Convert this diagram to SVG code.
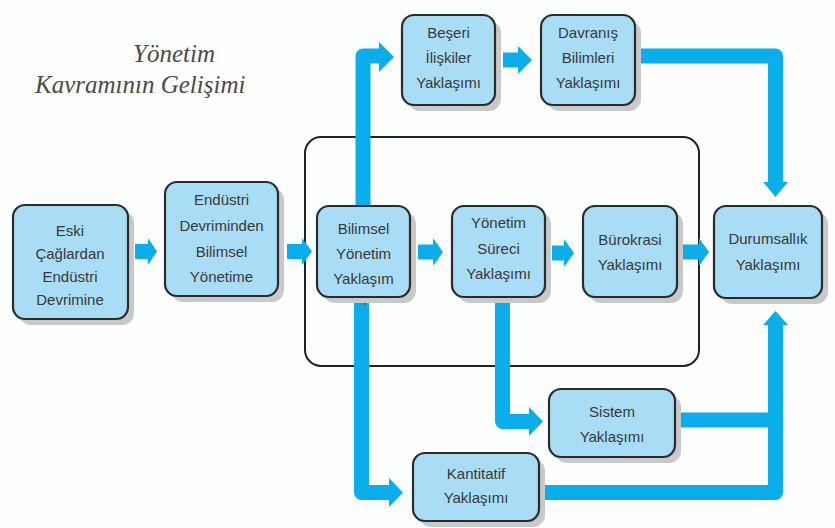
<svg xmlns="http://www.w3.org/2000/svg" width="835" height="528" viewBox="0 0 835 528">
<defs>
<style>
.bg{fill:#fdfefe}
.box{fill:#a9ddf5;stroke:#2b2b2b;stroke-width:2.2}
.sh{fill:#c9c9c9}
.t{font-family:"Liberation Sans",Arial,sans-serif;font-size:15px;fill:#383838;text-anchor:middle}
.ttl{font-family:"Liberation Serif","Times New Roman",serif;font-style:italic;font-size:25px;fill:#4a4a4a}
.ln{fill:none;stroke:#0aaeea;stroke-width:15;stroke-linejoin:round}
.hd{fill:#0aaeea}
.frame{fill:none;stroke:#222;stroke-width:2}
</style>
</defs>
<rect class="bg" x="0" y="0" width="835" height="528"/>
<g id="title">
<text class="ttl" x="133" y="62">Yönetim</text>
<text class="ttl" x="35" y="93">Kavramının Gelişimi</text>
</g>
<rect id="frame" class="frame" x="305" y="137" width="394" height="229" rx="16"/>
<g id="connectors">
<path class="ln" d="M135 251.5H149"/><polygon class="hd" points="148,238 157,251.5 148,265"/>
<path class="ln" d="M287 251.5H303"/><polygon class="hd" points="302,238 312,251.5 302,265"/>
<path class="ln" d="M418 252H434"/><polygon class="hd" points="433,238 443,252 433,266"/>
<path class="ln" d="M552 253H565"/><polygon class="hd" points="564,239 574,253 564,267"/>
<path class="ln" d="M683 252H700"/><polygon class="hd" points="699,238 709,252 699,266"/>
<path class="ln" d="M363 210V56H381"/><polygon class="hd" points="379,42 394,57 379,72"/>
<path class="ln" d="M503 60H519"/><polygon class="hd" points="518,46 532,60 518,74"/>
<path class="ln" d="M640 56H775.5V184"/><polygon class="hd" points="763,182 788,182 775.5,197"/>
<path class="ln" d="M361.5 295V492.5H391"/><polygon class="hd" points="389,478 403,492.5 389,507"/>
<path class="ln" d="M502.5 295V421.5H531"/><polygon class="hd" points="529,407 543,421.5 529,436"/>
<path class="ln" d="M672 420H776"/>
<path class="ln" d="M536 492.5H775.5V323"/><polygon class="hd" points="763,325 788,325 775.5,311"/>
<path d="M365 297V305" stroke="#333" stroke-width="1"/>
</g>
<g id="n1"><rect class="sh" x="19" y="211" width="115" height="114" rx="12"/><rect class="box" x="13" y="205" width="115" height="114" rx="12"/>
<text class="t" x="70" y="236">Eski</text><text class="t" x="70" y="259">Çağlardan</text><text class="t" x="70" y="282">Endüstri</text><text class="t" x="70" y="305">Devrimine</text></g>
<g id="n2"><rect class="sh" x="171" y="188" width="113" height="114" rx="12"/><rect class="box" x="165" y="182" width="113" height="114" rx="12"/>
<text class="t" x="221.5" y="205">Endüstri</text><text class="t" x="221.5" y="231">Devriminden</text><text class="t" x="221.5" y="257">Bilimsel</text><text class="t" x="221.5" y="282">Yönetime</text></g>
<g id="n3"><rect class="sh" x="323" y="212" width="93" height="91" rx="12"/><rect class="box" x="317" y="206" width="93" height="91" rx="12"/>
<text class="t" x="363.5" y="234">Bilimsel</text><text class="t" x="363.5" y="259">Yönetim</text><text class="t" x="363.5" y="284">Yaklaşım</text></g>
<g id="n4"><rect class="sh" x="458" y="212" width="93" height="91" rx="12"/><rect class="box" x="452" y="206" width="93" height="91" rx="12"/>
<text class="t" x="498.5" y="228">Yönetim</text><text class="t" x="498.5" y="254">Süreci</text><text class="t" x="498.5" y="279">Yaklaşımı</text></g>
<g id="n5"><rect class="sh" x="589" y="212" width="94" height="91" rx="12"/><rect class="box" x="583" y="206" width="94" height="91" rx="12"/>
<text class="t" x="630" y="245">Bürokrasi</text><text class="t" x="630" y="270">Yaklaşımı</text></g>
<g id="n6"><rect class="sh" x="720" y="212" width="108" height="92" rx="12"/><rect class="box" x="714" y="206" width="108" height="92" rx="12"/>
<text class="t" x="768" y="244">Durumsallık</text><text class="t" x="768" y="270">Yaklaşımı</text></g>
<g id="n7"><rect class="sh" x="408" y="21" width="93" height="90" rx="12"/><rect class="box" x="402" y="15" width="93" height="90" rx="12"/>
<text class="t" x="448.5" y="38">Beşeri</text><text class="t" x="448.5" y="63">İlişkiler</text><text class="t" x="448.5" y="88">Yaklaşımı</text></g>
<g id="n8"><rect class="sh" x="547" y="21" width="94" height="90" rx="12"/><rect class="box" x="541" y="15" width="94" height="90" rx="12"/>
<text class="t" x="588" y="38">Davranış</text><text class="t" x="588" y="63">Bilimleri</text><text class="t" x="588" y="88">Yaklaşımı</text></g>
<g id="n9"><rect class="sh" x="555" y="395" width="126" height="68" rx="12"/><rect class="box" x="549" y="389" width="126" height="68" rx="12"/>
<text class="t" x="612" y="417">Sistem</text><text class="t" x="612" y="442">Yaklaşımı</text></g>
<g id="n10"><rect class="sh" x="419" y="459" width="126" height="68" rx="12"/><rect class="box" x="413" y="453" width="126" height="68" rx="12"/>
<text class="t" x="476" y="479">Kantitatif</text><text class="t" x="476" y="503">Yaklaşımı</text></g>
</svg>
